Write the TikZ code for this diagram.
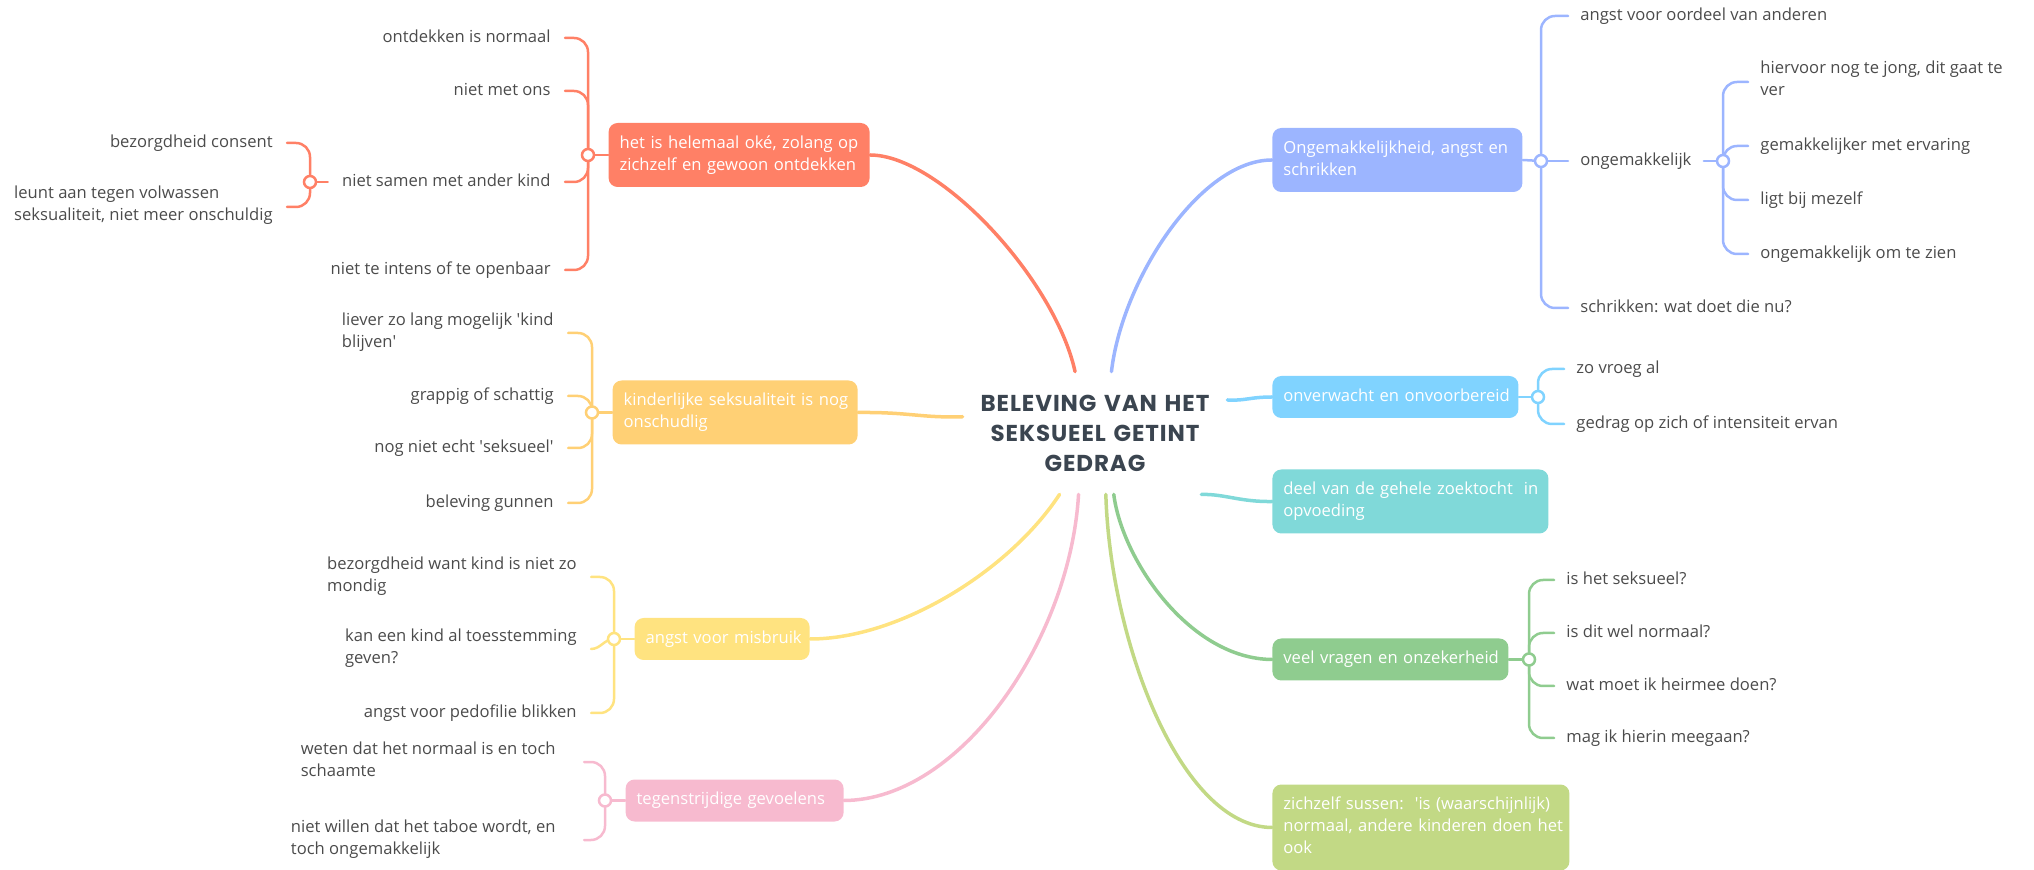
\documentclass[tikz,border=0pt]{standalone}
\usepackage{fontspec}
\setmainfont{Open Sans}
\newfontfamily\titlefont{Poppins}[LetterSpace=4]
\usepackage{tikz}

\definecolor{clrOrange}{HTML}{FF8066}
\definecolor{clrApricot}{HTML}{FFD075}
\definecolor{clrYellow}{HTML}{FFE380}
\definecolor{clrPink}{HTML}{F7BACF}
\definecolor{clrBlue}{HTML}{9CB5FF}
\definecolor{clrSky}{HTML}{80D3FF}
\definecolor{clrTeal}{HTML}{80D9D9}
\definecolor{clrGreen}{HTML}{8FCC8F}
\definecolor{clrLime}{HTML}{C2D985}
\definecolor{clrText}{HTML}{4B4B4B}
\definecolor{clrTitle}{HTML}{3B4550}

\pgfdeclarelayer{bg}
\pgfsetlayers{bg,main}

\begin{document}
\begin{tikzpicture}[x=0.5pt,y=-0.5pt,
        titleND/.style={align=center,
                        text=clrTitle,
                        inner sep=0pt,
                        text width=132pt,
                        minimum height=61pt,
                        font=\titlefont\bfseries\fontsize{11.5pt}{15pt}\selectfont},
        topicBX/.style={rectangle,
                        rounded corners=4.5pt,
                        text=white,
                        inner xsep=5.5pt,
                        inner ysep=5pt,
                        align=left,
                        font=\fontsize{8.3pt}{11pt}\selectfont,
                        execute at begin node=\strut,
                        execute at end node=\strut},
        leafND/.style={text=clrText,
                        inner xsep=7pt,
                        inner ysep=0pt,
                        align=left,
                        font=\fontsize{8.3pt}{11pt}\selectfont,
                        execute at begin node=\strut,
                        execute at end node=\strut},
        leafL/.style={leafND, anchor=east},
        leafR/.style={leafND, anchor=west, inner xsep=6pt},
        knotND/.style={circle,
                        fill=white,
                        line width=1.25pt,
                        inner sep=0pt,
                        minimum size=6pt},
        mainLN/.style={line width=1.75pt, line cap=round},
        subLN/.style={line width=1.25pt, line cap=round},
        elbowLN/.style={rounded corners=7pt, to path={|- (\tikztotarget)}}]
    \useasboundingbox (0,0) rectangle (2034,870);

    % centre
    \node[titleND](title) at (1095,433) {BELEVING VAN HET\\SEKSUEEL GETINT\\GEDRAG};

    % main topics
    \node[topicBX, fill=clrOrange, anchor=east, text width=119.5pt](okeBX) at (870,155)
        {\mbox{het is helemaal oké, zolang op}\\\mbox{zichzelf en gewoon ontdekken}};
    \node[topicBX, fill=clrApricot, anchor=east, text width=111.5pt](kindBX) at (858,412.5)
        {\mbox{kinderlijke seksualiteit is nog}\\onschudlig};
    \node[topicBX, fill=clrYellow, anchor=east, text width=76.5pt](misBX) at (810,639)
        {\mbox{angst voor misbruik}};
    \node[topicBX, fill=clrPink, anchor=east, text width=98pt](tegenBX) at (844,800.5)
        {\mbox{tegenstrijdige gevoelens}};
    \node[topicBX, fill=clrBlue, anchor=west, text width=114pt](ongemBX) at (1272,160)
        {\mbox{Ongemakkelijkheid, angst en}\\schrikken};
    \node[topicBX, fill=clrSky, anchor=west, text width=112pt](onverBX) at (1272,397)
        {\mbox{onverwacht en onvoorbereid}};
    \node[topicBX, fill=clrTeal, anchor=west, text width=127pt](deelBX) at (1272,501.5)
        {\mbox{deel van de gehele zoektocht\ \ in}\\opvoeding};
    \node[topicBX, fill=clrGreen, anchor=west, text width=107pt](vragBX) at (1272,659.5)
        {\mbox{veel vragen en onzekerheid}};
    \node[topicBX, fill=clrLime, anchor=west, text width=137.5pt](sussBX) at (1272,827.5)
        {\mbox{zichzelf sussen:\ \ \textquotesingle is (waarschijnlijk)}\\\mbox{normaal, andere kinderen doen het}\\ook};

    % knots
    \node[knotND, draw=clrOrange](okeKN) at (588,155) {};
    \node[knotND, draw=clrOrange](samenKN) at (310,182) {};
    \node[knotND, draw=clrApricot](kindKN) at (592,412.5) {};
    \node[knotND, draw=clrYellow](misKN) at (614,639) {};
    \node[knotND, draw=clrPink](tegenKN) at (605,800.5) {};
    \node[knotND, draw=clrBlue](ongemKN) at (1541,161) {};
    \node[knotND, draw=clrBlue](ongKN) at (1723,161) {};
    \node[knotND, draw=clrSky](onverKN) at (1538,397) {};
    \node[knotND, draw=clrGreen](vragKN) at (1529,659.5) {};

    % left leaves
    \node[leafL](ontdLF) at (565,38) {ontdekken is normaal};
    \node[leafL](onsLF) at (565,91) {niet met ons};
    \node[leafL](samenLF) at (565,182) {niet samen met ander kind};
    \node[leafL](intensLF) at (565,270) {niet te intens of te openbaar};
    \node[leafL](consLF) at (287,143) {bezorgdheid consent};
    \node[leafL](leuntLF) at (287,207) {leunt aan tegen volwassen\\seksualiteit, niet meer onschuldig};
    \node[leafL](lieverLF) at (568,333) {liever zo lang mogelijk \textquotesingle kind\\blijven\textquotesingle};
    \node[leafL](grapLF) at (568,396) {grappig of schattig};
    \node[leafL](echtLF) at (568,448) {nog niet echt \textquotesingle seksueel\textquotesingle};
    \node[leafL](gunLF) at (568,503) {beleving gunnen};
    \node[leafL](mondLF) at (591,577) {bezorgdheid want kind is niet zo\\mondig};
    \node[leafL](toesLF) at (591,649) {kan een kind al toesstemming\\geven?};
    \node[leafL](pedoLF) at (591,713) {angst voor pedofilie blikken};
    \node[leafL, inner xsep=14pt](schaamLF) at (584,762) {weten dat het normaal is en toch\\schaamte};
    \node[leafL, inner xsep=14pt](taboeLF) at (584,840) {niet willen dat het taboe wordt, en\\toch ongemakkelijk};

    % right leaves
    \node[leafR](oordLF) at (1568,16) {angst voor oordeel van anderen};
    \node[leafR](ongLF) at (1568,161) {ongemakkelijk};
    \node[leafR](schrikLF) at (1568,308) {schrikken: wat doet die nu?};
    \node[leafR](jongLF) at (1748,82) {hiervoor nog te jong, dit gaat te\\ver};
    \node[leafR](ervLF) at (1748,146) {gemakkelijker met ervaring};
    \node[leafR](mezLF) at (1748,200) {ligt bij mezelf};
    \node[leafR](zienLF) at (1748,254) {ongemakkelijk om te zien};
    \node[leafR](vroegLF) at (1564,369) {zo vroeg al};
    \node[leafR](gedragLF) at (1564,424) {gedrag op zich of intensiteit ervan};
    \node[leafR](seksLF) at (1554,580) {is het seksueel?};
    \node[leafR](normLF) at (1554,633) {is dit wel normaal?};
    \node[leafR](doenLF) at (1554,686) {wat moet ik heirmee doen?};
    \node[leafR](meeLF) at (1554,738) {mag ik hierin meegaan?};

    \begin{pgfonlayer}{bg}
        % branches from the centre
        \draw[mainLN, clrOrange] (okeBX.east) .. controls (940,155) and (1055,280) .. (title.108);
        \draw[mainLN, clrApricot] (kindBX.east) .. controls (910,412) and (920,418) .. (title.173);
        \draw[mainLN, clrYellow] (misBX.east) .. controls (900,639) and (1010,570) .. (title.-120);
        \draw[mainLN, clrPink] (tegenBX.east) .. controls (960,800) and (1070,640) .. (title.-105);
        \draw[mainLN, clrBlue] (ongemBX.west) .. controls (1200,160) and (1122,280) .. (title.75);
        \draw[mainLN, clrSky] (onverBX.west) .. controls (1250,397) and (1245,401) .. (title.14);
        \draw[mainLN, clrTeal] (deelBX.west) .. controls (1240,502) and (1225,494) .. (title.-30);
        \draw[mainLN, clrGreen] (vragBX.west) .. controls (1190,659) and (1122,560) .. (title.-73);
        \draw[mainLN, clrLime] (sussBX.west) .. controls (1180,827) and (1110,640) .. (title.-80);

        % sub branches
        \path[subLN, clrOrange]
            (okeBX.west) edge (okeKN.center)
            (okeKN.center)
                edge [elbowLN] (ontdLF)
                edge [elbowLN] (onsLF)
                edge [elbowLN] (samenLF)
                edge [elbowLN] (intensLF)
            (samenLF) edge (samenKN.center)
            (samenKN.center)
                edge [elbowLN] (consLF)
                edge [elbowLN] (leuntLF)
            ;
        \path[subLN, clrApricot]
            (kindBX.west) edge (kindKN.center)
            (kindKN.center)
                edge [elbowLN] (lieverLF)
                edge [elbowLN] (grapLF)
                edge [elbowLN] (echtLF)
                edge [elbowLN] (gunLF)
            ;
        \path[subLN, clrYellow]
            (misBX.west) edge (misKN.center)
            (misKN.center)
                edge [elbowLN] (mondLF)
                edge [out=180, in=0] (toesLF)
                edge [elbowLN] (pedoLF)
            ;
        \path[subLN, clrPink]
            (tegenBX.west) edge (tegenKN.center)
            (tegenKN.center)
                edge [elbowLN] (schaamLF)
                edge [elbowLN] (taboeLF)
            ;
        \path[subLN, clrBlue]
            (ongemBX.east) edge (ongemKN.center)
            (ongemKN.center)
                edge [elbowLN] (oordLF)
                edge (ongLF)
                edge [elbowLN] (schrikLF)
            (ongLF) edge (ongKN.center)
            (ongKN.center)
                edge [elbowLN] (jongLF)
                edge [elbowLN] (ervLF)
                edge [elbowLN] (mezLF)
                edge [elbowLN] (zienLF)
            ;
        \path[subLN, clrSky]
            (onverBX.east) edge (onverKN.center)
            (onverKN.center)
                edge [elbowLN] (vroegLF)
                edge [elbowLN] (gedragLF)
            ;
        \path[subLN, clrGreen]
            (vragBX.east) edge (vragKN.center)
            (vragKN.center)
                edge [elbowLN] (seksLF)
                edge [elbowLN] (normLF)
                edge [elbowLN] (doenLF)
                edge [elbowLN] (meeLF)
            ;
    \end{pgfonlayer}
\end{tikzpicture}
\end{document}
